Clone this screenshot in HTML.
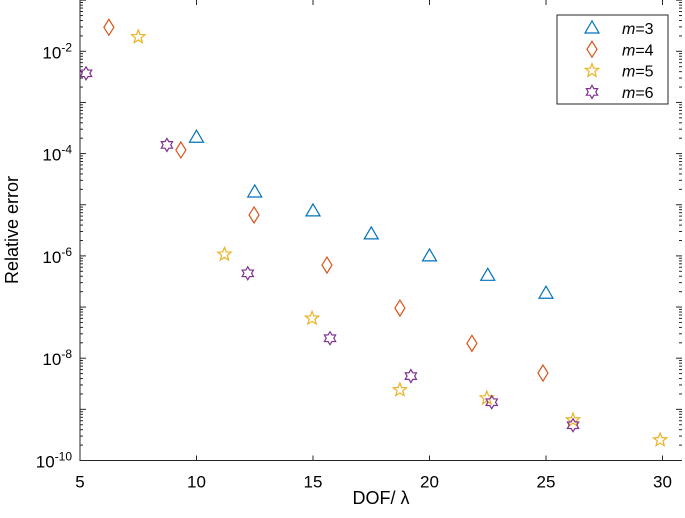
<!DOCTYPE html>
<html><head><meta charset="utf-8"><style>
body{margin:0;background:#fff;font-family:"Liberation Sans",Arial,sans-serif}
svg text{font-family:"Liberation Sans",Arial,sans-serif}
</style></head><body>
<svg id="chart" width="685" height="513" xmlns="http://www.w3.org/2000/svg">
<g id="axes"></g>
<g id="marks"></g>
<g id="legend"></g>
<text x="381" y="504" font-size="18" text-anchor="middle">DOF/ λ</text>
<text transform="translate(18,230) rotate(-90)" font-size="18" text-anchor="middle">Relative error</text>
</svg>
<script>
const xTicks=[5,10,15,20,25,30];
const yDecades=[-10,-9,-8,-7,-6,-5,-4,-3,-2,-1];
const yLabelDecades=[-10,-8,-6,-4,-2];
const seriesNames=["m=3","m=4","m=5","m=6"];
const m3x=[10,12.5,15,17.5,20,22.5,25];
const m3y=[-3.68,-4.75,-5.12,-5.57,-6.0,-6.38,-6.73];
const m4x=[6.24,9.33,12.47,15.6,18.73,21.82,24.87];
const m4y=[-1.53,-3.93,-5.2,-6.18,-7.02,-7.71,-8.29];
const m5x=[7.5,11.2,14.96,18.73,22.46,26.16,29.9];
const m5y=[-1.72,-5.97,-7.22,-8.62,-8.78,-9.21,-9.6];
const m6x=[5.26,8.73,12.2,15.73,19.2,22.67,26.16];
const m6y=[-2.43,-3.83,-6.34,-7.61,-8.35,-8.86,-9.31];

const L=80,R=682,T=0,B=460.5,X0=5,PX=23.3,DEC=51.15;
const sx=v=>L+(v-X0)*PX;
const sy=e=>B-(e+10)*DEC;
const NS="http://www.w3.org/2000/svg";
function mk(tag,parent,attrs){const e=document.createElementNS(NS,tag);for(const k in attrs)e.setAttribute(k,attrs[k]);parent.appendChild(e);return e;}
const ax=document.getElementById('axes');
const frame=mk('path',ax,{d:`M${L},${T}V${B}H${R}`,stroke:'#262626',fill:'none','stroke-width':1});


xTicks.forEach(v=>{
 const x=sx(v);
 mk('line',ax,{x1:x,x2:x,y1:B,y2:B-5,stroke:'#262626'});
 mk('line',ax,{x1:x,x2:x,y1:T,y2:T+5,stroke:'#262626'});
 const t=mk('text',ax,{x:x,y:B+27,'font-size':17,'text-anchor':'middle'});
 t.textContent=v;
 
 
});
yDecades.forEach(d=>{
 for(let k=1;k<=9;k++){
  const e=d+Math.log10(k);
  if(e>-1)continue;
  const y=sy(e);const len=k===1?6:3;
  mk('line',ax,{x1:L,x2:L+len,y1:y,y2:y,stroke:'#262626'});
  mk('line',ax,{x1:R,x2:R-len,y1:y,y2:y,stroke:'#262626'});
 }
});
yLabelDecades.forEach(d=>{
 const y=sy(d);
 const t=mk('text',ax,{x:L-8,y:y+7,'font-size':17,'text-anchor':'end'});
 
 
 const a=mk('tspan',t,{});a.textContent='10';
 const b=mk('tspan',t,{'font-size':12,dy:-7});b.textContent=String(d);
});
const colors=['#0072BD','#D95319','#EDB120','#7E2F8E'];
function marker(p,type,x,y,c){
 let el;
 if(type===0) el=mk('polygon',p,{points:`${x},${y-7} ${x-7},${y+5} ${x+7},${y+5}`});
 else if(type===1) el=mk('polygon',p,{points:`${x},${y-8} ${x+5},${y} ${x},${y+8} ${x-5},${y}`});
 else if(type===2){let pts=[];for(let i=0;i<10;i++){const r=i%2?3:7;const a=-Math.PI/2+i*Math.PI/5;pts.push((x+r*Math.cos(a)).toFixed(2)+','+(y+r*Math.sin(a)).toFixed(2));}el=mk('polygon',p,{points:pts.join(' ')});}
 else {let pts=[];for(let i=0;i<12;i++){const r=i%2?3.8:6.5;const a=-Math.PI/2+i*Math.PI/6;pts.push((x+r*Math.cos(a)).toFixed(2)+','+(y+r*Math.sin(a)).toFixed(2));}el=mk('polygon',p,{points:pts.join(' ')});}
 el.setAttribute('fill','none');el.setAttribute('stroke',c);el.setAttribute('stroke-width',1.2);
 return el;
}
const marks=document.getElementById('marks');
[[m3x,m3y],[m4x,m4y],[m5x,m5y],[m6x,m6y]].forEach((s,i)=>{
 s[0].forEach((xv,j)=>{
  const el=marker(marks,i,sx(xv),sy(s[1][j]),colors[i]);
  
  
 });
});
const lg=document.getElementById('legend');
const box=mk('rect',lg,{x:557,y:15,width:111,height:89,fill:'#fff',stroke:'#262626'});


seriesNames.forEach((n,i)=>{
 const y=28+i*21.3;
 const m=marker(lg,i,592,y,colors[i]);
 
 
 const t=mk('text',lg,{x:622,y:y+6,'font-size':16});
 
 
 const a=mk('tspan',t,{'font-style':'italic'});a.textContent='m';
 const b=mk('tspan',t,{});b.textContent=n.slice(1);
});
</script>
</body></html>
